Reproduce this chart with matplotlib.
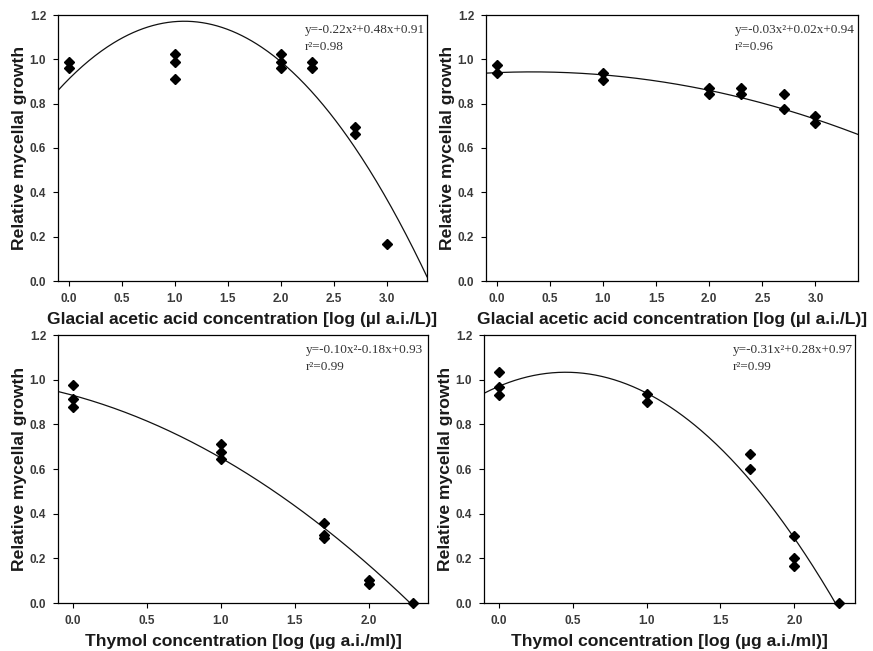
import matplotlib.pyplot as plt
import numpy as np

# concentrations (log scale) and replicate responses
gaa_x = [0, 0, 1, 1, 1, 2, 2, 2, 2.3, 2.3, 2.7, 2.7, 3]
gaa_a_y = [0.99, 0.96, 1.025, 0.99, 0.91, 1.025, 0.99, 0.96, 0.99, 0.96, 0.695, 0.665, 0.168]
gaa_b_x = [0, 0, 1, 1, 2, 2, 2.3, 2.3, 2.7, 2.7, 3, 3]
gaa_b_y = [0.975, 0.94, 0.94, 0.905, 0.872, 0.842, 0.872, 0.842, 0.842, 0.775, 0.744, 0.714]
thy_x = [0, 0, 0, 1, 1, 1, 1.7, 1.7, 1.7, 2, 2, 2.3]
thy_a_y = [0.976, 0.912, 0.876, 0.711, 0.677, 0.643, 0.356, 0.303, 0.289, 0.105, 0.086, 0.0]
thy_b_x = [0, 0, 0, 1, 1, 1.7, 1.7, 2, 2, 2, 2.3]
thy_b_y = [1.033, 0.967, 0.93, 0.936, 0.9, 0.667, 0.601, 0.302, 0.203, 0.167, 0.0]

# quadratic fits as printed on the chart (a, b, c)
coef_gaa_a = [-0.22, 0.48, 0.91]
coef_gaa_b = [-0.03, 0.02, 0.94]
coef_thy_a = [-0.10, -0.18, 0.93]
coef_thy_b = [-0.31, 0.28, 0.97]

eq_gaa_a = "y=-0.22x²+0.48x+0.91\nr²=0.98"
eq_gaa_b = "y=-0.03x²+0.02x+0.94\nr²=0.96"
eq_thy_a = "y=-0.10x²-0.18x+0.93\nr²=0.99"
eq_thy_b = "y=-0.31x²+0.28x+0.97\nr²=0.99"

GAA_LABEL = "Glacial acetic acid concentration [log (µl a.i./L)]"
THY_LABEL = "Thymol concentration [log (µg a.i./ml)]"

plt.rcParams["font.family"] = ["Liberation Sans", "DejaVu Sans"]

fig = plt.figure(figsize=(8.73, 6.51), dpi=100)
W, H = 873, 651


def add_axes(left, right, top, bottom):
    return fig.add_axes([left / W, 1 - bottom / H, (right - left) / W, (bottom - top) / H])


panels = [
    (add_axes(58, 427, 15, 281), gaa_x, gaa_a_y, coef_gaa_a, eq_gaa_a, GAA_LABEL,
     (-0.1, 3.38), [0, 0.5, 1.0, 1.5, 2.0, 2.5, 3.0]),
    (add_axes(486, 858, 15, 281), gaa_b_x, gaa_b_y, coef_gaa_b, eq_gaa_b, GAA_LABEL,
     (-0.1, 3.4), [0, 0.5, 1.0, 1.5, 2.0, 2.5, 3.0]),
    (add_axes(58, 428, 335, 603), thy_x, thy_a_y, coef_thy_a, eq_thy_a, THY_LABEL,
     (-0.1, 2.4), [0, 0.5, 1.0, 1.5, 2.0]),
    (add_axes(484, 855, 335, 603), thy_b_x, thy_b_y, coef_thy_b, eq_thy_b, THY_LABEL,
     (-0.1, 2.41), [0, 0.5, 1.0, 1.5, 2.0]),
]

for ax, xs, ys, coef, eq, xlabel, xlim, xticks in panels:
    xx = np.linspace(xlim[0], xlim[1], 300)
    ax.plot(xx, np.polyval(coef, xx), color="#111111", linewidth=0.9)
    ax.plot(xs, ys, linestyle="none", marker="D", markersize=5,
            color="black", clip_on=False)
    ax.set_xlim(*xlim)
    ax.set_ylim(0, 1.2)
    ax.set_xticks(xticks)
    ax.set_xticklabels([f"{t:.1f}" for t in xticks])
    ax.set_yticks([0, 0.2, 0.4, 0.6, 0.8, 1.0, 1.2])
    ax.set_yticklabels([f"{t:.1f}" for t in ax.get_yticks()])
    ax.tick_params(direction="out", length=3.5, width=0.8, labelsize=8.5,
                   labelcolor="#3a3a3a", pad=5)
    for lab in ax.get_xticklabels() + ax.get_yticklabels():
        lab.set_fontweight("bold")
    ax.set_xlabel(xlabel, fontsize=12.6, fontweight="bold", color="#1a1a1a", labelpad=5)
    ax.set_ylabel("Relative mycellal growth", fontsize=12.6, fontweight="bold",
                  color="#1a1a1a", labelpad=2)
    for sp in ax.spines.values():
        sp.set_linewidth(0.9)
    ax.text(0.67, 0.965, eq, transform=ax.transAxes, ha="left", va="top",
            fontsize=9.5, family=["Liberation Serif", "DejaVu Serif"],
            color="#333333", linespacing=1.5)

fig.savefig("out.png", dpi=100)
